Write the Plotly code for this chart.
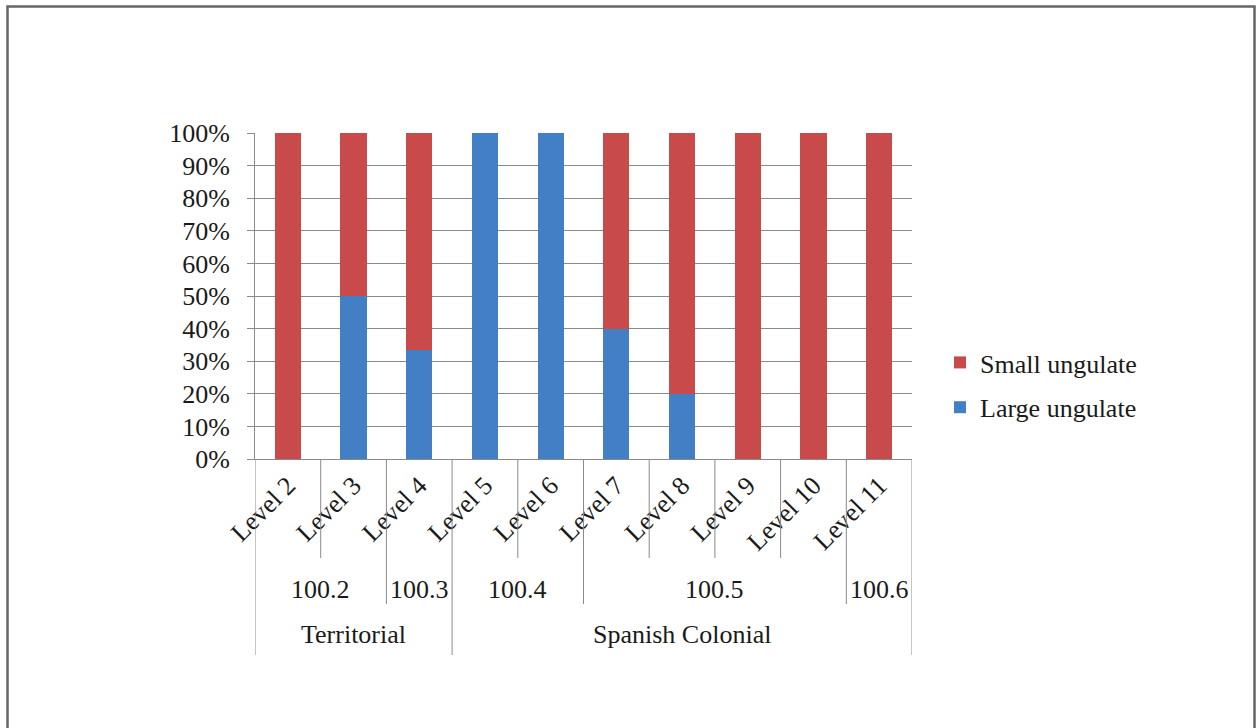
import plotly.graph_objects as go

# Stratigraphic levels with their excavation unit and period
levels = ["Level 2", "Level 3", "Level 4", "Level 5", "Level 6",
          "Level 7", "Level 8", "Level 9", "Level 10", "Level 11"]
units = ["100.2", "100.2", "100.3", "100.4", "100.4",
         "100.5", "100.5", "100.5", "100.5", "100.6"]
periods = ["Territorial", "Territorial", "Territorial",
           "Spanish Colonial", "Spanish Colonial", "Spanish Colonial",
           "Spanish Colonial", "Spanish Colonial", "Spanish Colonial",
           "Spanish Colonial"]

# Share of each ungulate size class per level (%)
large_ungulate = [0, 50, 33.3, 100, 100, 40, 20, 0, 0, 0]
small_ungulate = [100, 50, 66.7, 0, 0, 60, 80, 100, 100, 100]

RED = "#C94A4A"
BLUE = "#437FC4"
GRID = "#8a8a8a"
FONT = "Liberation Serif"
TXT = "#1a1a1a"
FS = 26

W, H = 1256, 728
L, R, T, B = 255, 344, 133, 269
pw, ph = W - L - R, H - T - B


def py(y_px):
    """Pixel row -> paper y."""
    return (H - B - y_px) / ph


def px(x_px):
    """Pixel column -> paper x."""
    return (x_px - L) / pw


xs = list(range(len(levels)))

fig = go.Figure()
fig.add_trace(go.Bar(x=xs, y=large_ungulate, name="Large ungulate",
                     marker=dict(color=BLUE, line=dict(width=0)),
                     legendgroup="large", legendrank=2))
fig.add_trace(go.Bar(x=xs, y=small_ungulate, name="Small ungulate",
                     marker=dict(color=RED, line=dict(width=0)),
                     legendgroup="small", legendrank=1))

shapes = []
annotations = []

# Category separators below the axis: longer lines where unit / period changes
short_y, mid_y, long_y = py(558), py(604), py(655)
n = len(levels)
for b in range(n + 1):
    if b == 0 or b == n or periods[b - 1] != periods[b]:
        y1 = long_y
    elif units[b - 1] != units[b]:
        y1 = mid_y
    else:
        y1 = short_y
    shapes.append(dict(type="line", xref="x", yref="paper",
                       x0=b - 0.5, x1=b - 0.5, y0=0, y1=y1,
                       line=dict(color=GRID, width=1)))


def group_spans(labels):
    spans = []
    start = 0
    for i in range(1, len(labels) + 1):
        if i == len(labels) or labels[i] != labels[start]:
            spans.append((labels[start], start, i - 1))
            start = i
    return spans


for lab, s, e in group_spans(units):
    annotations.append(dict(text=lab, x=(s + e) / 2, xref="x", y=py(589),
                            yref="paper", yanchor="middle", showarrow=False,
                            font=dict(family=FONT, size=FS, color=TXT)))
for lab, s, e in group_spans(periods):
    annotations.append(dict(text=lab, x=(s + e) / 2, xref="x", y=py(634),
                            yref="paper", yanchor="middle", showarrow=False,
                            font=dict(family=FONT, size=FS, color=TXT)))

# Outer frame of the figure
shapes.append(dict(type="rect", xref="paper", yref="paper",
                   x0=px(7.5), x1=px(1254.5), y0=py(740), y1=py(6.5),
                   line=dict(color="#666666", width=2.5), layer="below"))

fig.update_layout(
    width=W, height=H,
    margin=dict(l=L, r=R, t=T, b=B, pad=0),
    barmode="stack",
    bargap=0.6,
    paper_bgcolor="white",
    plot_bgcolor="white",
    font=dict(family=FONT, size=FS, color=TXT),
    shapes=shapes,
    annotations=annotations,
    legend=dict(x=px(940), y=py(385), xanchor="left", yanchor="middle",
                traceorder="grouped", tracegroupgap=8,
                font=dict(family=FONT, size=FS, color=TXT),
                bgcolor="rgba(0,0,0,0)"),
    xaxis=dict(
        range=[-0.5, n - 0.5],
        tickmode="array", tickvals=xs, ticktext=levels,
        tickangle=-45, ticks="", showgrid=False,
        showline=True, linecolor=GRID, linewidth=1,
        tickfont=dict(family=FONT, size=FS, color=TXT),
        fixedrange=True,
    ),
    yaxis=dict(
        range=[0, 100], dtick=10, ticksuffix="%",
        showgrid=True, gridcolor=GRID, gridwidth=1,
        showline=True, linecolor=GRID, linewidth=1,
        ticks="outside", ticklen=7, tickcolor=GRID,
        ticklabelstandoff=12,
        tickfont=dict(family=FONT, size=FS, color=TXT),
        zeroline=False,
        fixedrange=True,
    ),
)

fig.write_html("out.html")
